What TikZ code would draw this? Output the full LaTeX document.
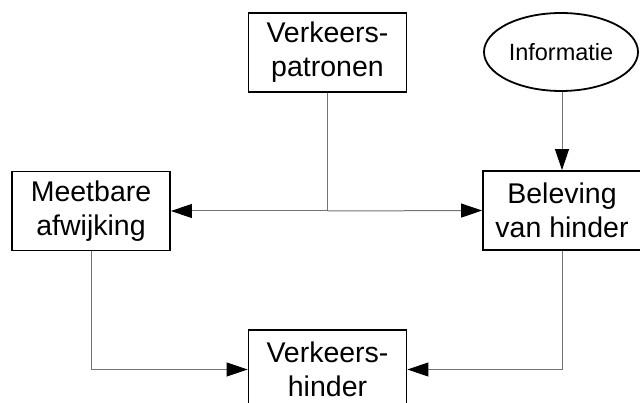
\documentclass[tikz,border=0pt]{standalone}
\usepackage{fontspec}
\setmainfont{Liberation Sans}
\usetikzlibrary{arrows.meta,shapes.geometric}
\begin{document}
\begin{tikzpicture}[x=1pt,y=-1pt,
  box/.style={draw=black,line width=1.8pt,minimum width=158pt,minimum height=79pt,inner sep=0pt,align=center,font=\fontsize{28.5}{34}\selectfont},
  oval/.style={ellipse,draw=black,line width=1.8pt,minimum width=154pt,minimum height=78pt,inner sep=0pt,font=\fontsize{23.5}{28}\selectfont},
  conn/.style={draw=black!55,line width=1pt},
  tip/.style={-{Triangle[length=21pt,width=14pt,color=black,fill=black]}}]
\useasboundingbox (0,0) rectangle (640,403);
\node[box] (vp) at (327.5,52.5) {Verkeers-\\patronen};
\node[oval] (inf) at (561,52) {Informatie};
\node[box] (ma) at (91,211) {Meetbare\\afwijking};
\node[box] (bh) at (562,210.5) {Beleving\\van hinder};
\node[box] (vh) at (327.5,369.5) {Verkeers-\\hinder};
\coordinate (j) at (vp.south |- ma.east);
\draw[conn] (vp.south) -- (j);
\draw[conn,tip] (j) -- (ma.east);
\draw[conn,tip] (j) -- (bh.west);
\draw[conn,tip] (inf.south -| bh.north) -- (bh.north);
\draw[conn,tip] (ma.south) |- (vh.west);
\draw[conn,tip] (bh.south) |- (vh.east);
\end{tikzpicture}
\end{document}
